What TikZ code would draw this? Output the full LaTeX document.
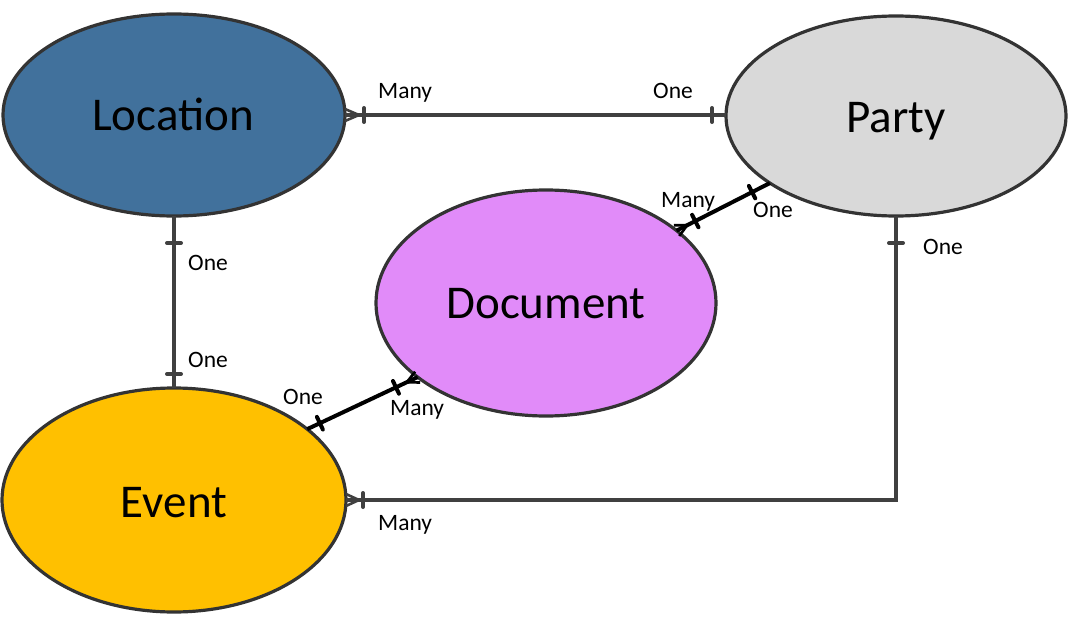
\documentclass[tikz,border=0pt]{standalone}
\usepackage{fontspec}
\setmainfont{Carlito}
\usetikzlibrary{shapes.geometric,calc}
\definecolor{locblue}{RGB}{65,113,156}
\definecolor{partygray}{RGB}{217,217,217}
\definecolor{docpink}{RGB}{225,139,249}
\definecolor{eventgold}{RGB}{255,192,0}
\definecolor{edgegray}{RGB}{51,51,51}
\definecolor{linegray}{RGB}{64,64,64}
\tikzset{
  entity/.style={ellipse,draw=edgegray,line width=3.2pt,inner sep=0pt,outer sep=0pt},
  bigtext/.style={anchor=base,font=\fontsize{47}{52}\selectfont},
  card/.style={anchor=base west,font=\fontsize{23.5}{26}\selectfont,inner sep=0pt},
  conn/.style={line width=4pt,draw=linegray},
  connb/.style={line width=4pt,draw=black},
}
% tick: from #1 towards #2 at distance #3, style #4
\newcommand\tickmk[4]{%
  \coordinate (tm) at ($(#1)!#3!(#2)$);
  \draw[#4,line cap=round] ($(tm)!7pt!90:(#2)$) -- ($(tm)!7pt!-90:(#2)$);}
% crow's foot at #1 (ellipse end) pointing to #2, apex distance #3, style #4
\newcommand\crowft{}
\renewcommand\crowft[4]{%
  \coordinate (ca) at ($(#1)!#3!(#2)$);
  \draw[#4,line width=2.6pt] ($(#1)!6pt!90:(#2)$) -- (ca) -- ($(#1)!6pt!-90:(#2)$);}
\begin{document}
\begin{tikzpicture}[x=1pt,y=-1pt]
\useasboundingbox (0,0) rectangle (1069,618);
% entities
\node[entity,fill=locblue,minimum width=342pt,minimum height=202pt] (loc) at (174,115) {};
\node[entity,fill=partygray,minimum width=340pt,minimum height=200pt] (party) at (896,116) {};
\node[entity,fill=docpink,minimum width=340pt,minimum height=226pt] (doc) at (546,303) {};
\node[entity,fill=eventgold,minimum width=344pt,minimum height=224pt] (event) at (174,500) {};
\node[bigtext] (loct) at (173,131) {Location};
\node[bigtext] (partyt) at (896,132) {Party};
\node[bigtext] (doct) at (546,318) {Document};
\node[bigtext] (eventt) at (174,517) {Event};
% Location -- Party
\coordinate (lpR) at (loc.east -| party.west);
\draw[conn] (loc.east) -- (lpR);
\crowft{loc.east}{lpR}{14pt}{conn}
\tickmk{loc.east}{lpR}{19pt}{conn}
\tickmk{lpR}{loc.east}{14pt}{conn}
% Location -- Event
\draw[conn] (loc.south) -- (event.north);
\tickmk{loc.south}{event.north}{27pt}{conn}
\tickmk{event.north}{loc.south}{14pt}{conn}
% Party -- Event (elbow)
\coordinate (corner) at (party.south |- event.east);
\draw[conn] (party.south) -- (corner) -- (event.east);
\tickmk{party.south}{corner}{27pt}{conn}
\crowft{event.east}{corner}{13pt}{conn}
\tickmk{event.east}{corner}{17pt}{conn}
% Document -- Party
\coordinate (dpA) at (doc.29);
\coordinate (dpB) at (party.208);
\draw[connb] (dpA) -- (dpB);
\crowft{dpA}{dpB}{12pt}{connb}
\tickmk{dpA}{dpB}{21pt}{connb}
\tickmk{dpB}{dpA}{20pt}{connb}
% Event -- Document
\coordinate (edA) at (event.28);
\coordinate (edB) at (doc.210);
\draw[connb] (edA) -- (edB);
\crowft{edB}{edA}{12pt}{connb}
\tickmk{edB}{edA}{24pt}{connb}
\tickmk{edA}{edB}{14pt}{connb}
% cardinality labels
\node[card] (c1) at (378,99) {Many};
\node[card] (c2) at (653,99) {One};
\node[card] (c3) at (188,270) {One};
\node[card] (c4) at (188,367) {One};
\node[card] (c5) at (661,207) {Many};
\node[card] (c6) at (753,217) {One};
\node[card] (c7) at (283,404) {One};
\node[card] (c8) at (390,415) {Many};
\node[card] (c9) at (923,254) {One};
\node[card] (c10) at (378,530) {Many};
\end{tikzpicture}
\end{document}
